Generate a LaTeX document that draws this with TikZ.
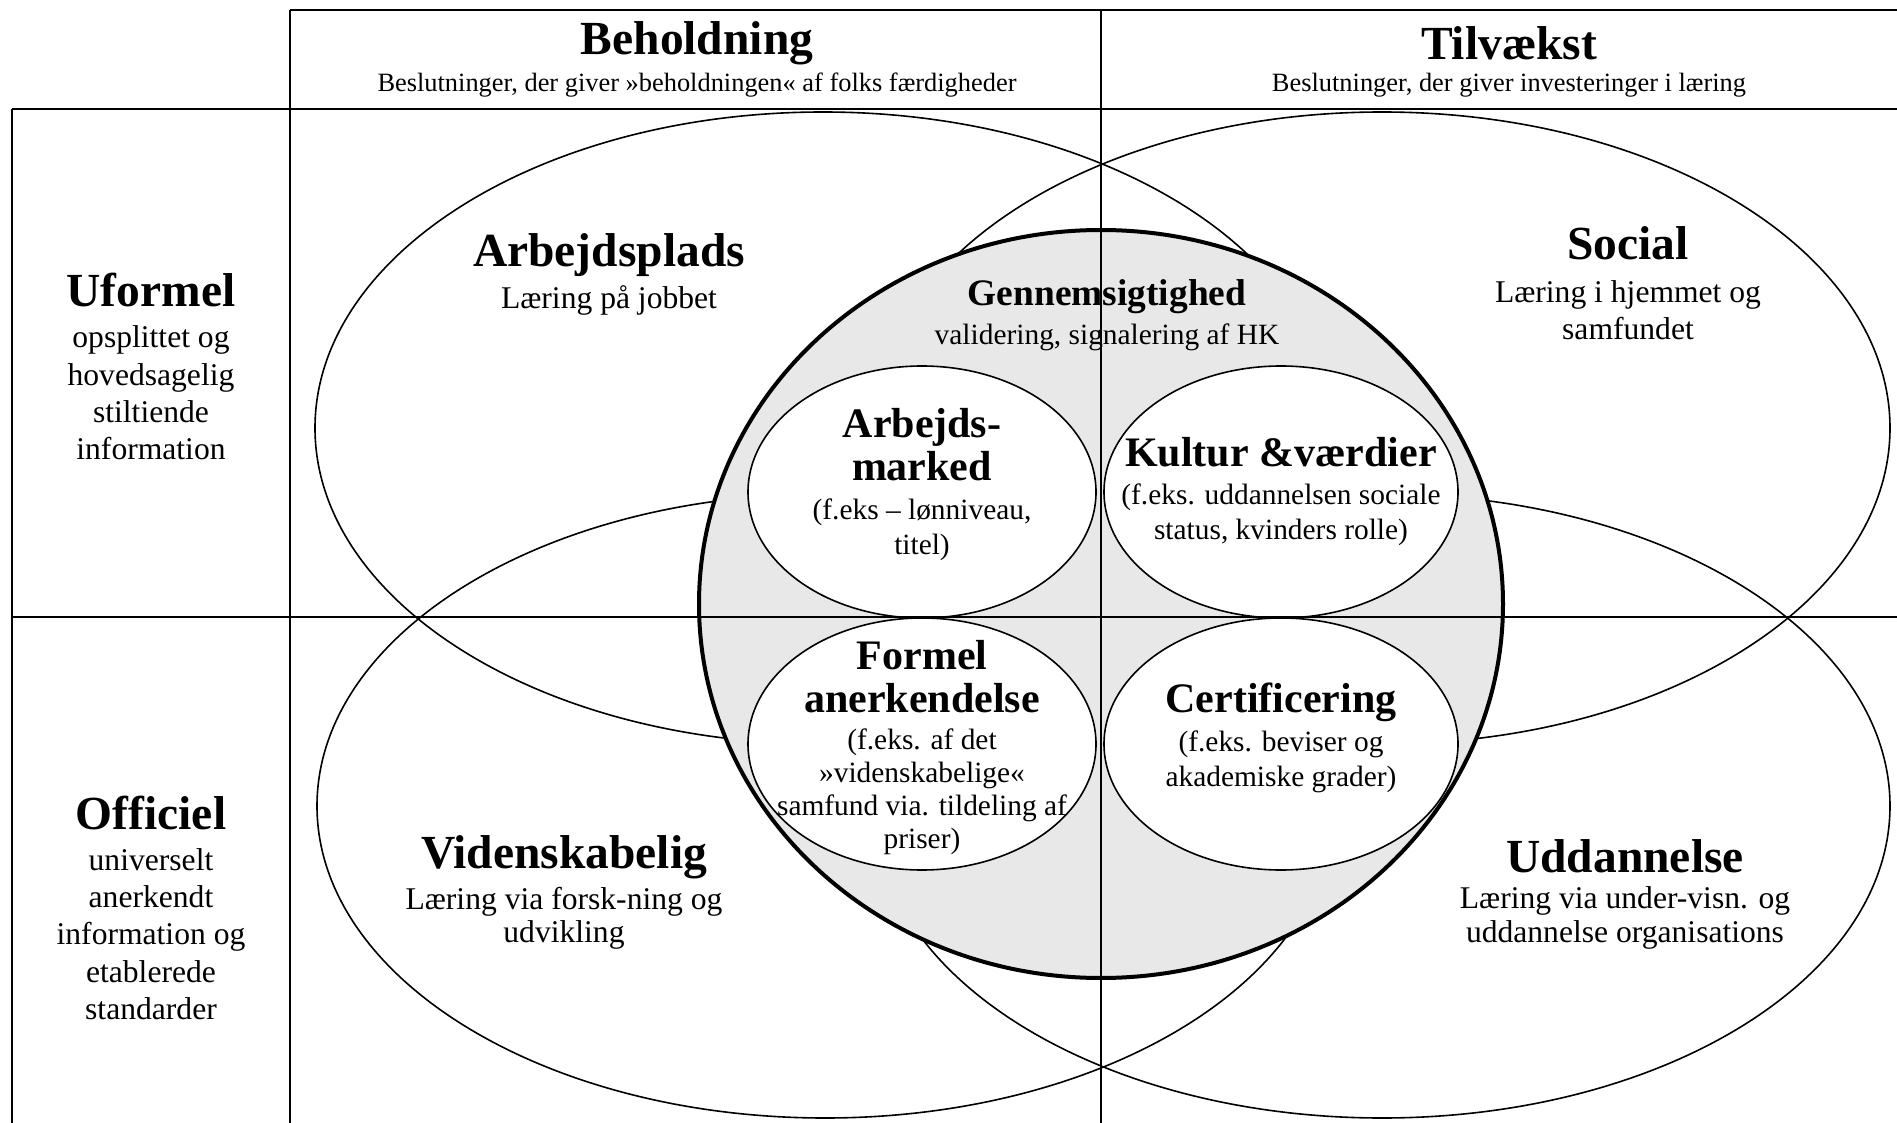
\documentclass[tikz,border=0pt]{standalone}
\usepackage{fontspec}
\setmainfont{Liberation Serif}
\definecolor{corefill}{RGB}{232,232,232}
\begin{document}
\begin{tikzpicture}[x=0.5pt,y=-0.5pt,
  gridline/.style={line width=1.1pt},
  outerell/.style={line width=0.8pt},
  innerell/.style={line width=0.8pt, fill=white},
  coreell/.style={line width=2pt, fill=corefill},
  txt/.style={inner sep=0pt, align=center},
  bigtitle/.style={txt, font=\fontsize{23.75}{28}\selectfont\bfseries},
  headsub/.style={txt, font=\fontsize{13.2}{16}\selectfont},
  sidesub/.style={txt, font=\fontsize{15.8}{18.7}\selectfont},
  ellsub/.style={txt, font=\fontsize{15.8}{16.6}\selectfont},
  midtitle/.style={txt, font=\fontsize{21}{21.5}\selectfont\bfseries},
  coretitle/.style={txt, font=\fontsize{18.7}{22}\selectfont\bfseries},
  midsub/.style={txt, font=\fontsize{14.7}{17.3}\selectfont},
  midsubtight/.style={txt, font=\fontsize{14.7}{16.5}\selectfont}]
\useasboundingbox (0,0) rectangle (1897,1123);

% four large learning domains
\draw[outerell] (823,428) ellipse [x radius=508, y radius=316];
\draw[outerell] (1382,428) ellipse [x radius=508, y radius=316];
\draw[outerell] (825,806) ellipse [x radius=508, y radius=312];
\draw[outerell] (1382,806) ellipse [x radius=508, y radius=312];

% central recognition area
\draw[coreell] (1101,604) ellipse [x radius=402, y radius=374];
\draw[innerell] (922,492) ellipse [x radius=174, y radius=126];
\draw[innerell] (1281,492) ellipse [x radius=177, y radius=126];
\draw[innerell] (922,744) ellipse [x radius=174, y radius=126];
\draw[innerell] (1281,744) ellipse [x radius=177, y radius=126];

% table frame
\draw[gridline] (290,10) -- (1897,10);
\draw[gridline] (12,109) -- (1897,109);
\draw[gridline] (12,617) -- (1897,617);
\draw[gridline] (12,109) -- (12,1123);
\draw[gridline] (290,10) -- (290,1123);
\draw[gridline] (1101,10) -- (1101,1123);

% column headings
\node[bigtitle] (hstock) at (697,43) {Beholdning};
\node[headsub] (hstocksub) at (697,85) {Beslutninger, der giver »beholdningen« af folks færdigheder};
\node[bigtitle] (hgrowth) at (1509,43) {Tilvækst};
\node[headsub] (hgrowthsub) at (1509,85) {Beslutninger, der giver investeringer i læring};

% row headings
\node[bigtitle] (rinf) at (151,290) {Uformel};
\node[sidesub] (rinfsub) at (151,393) {opsplittet og\\hovedsagelig\\stiltiende\\information};
\node[bigtitle] (roff) at (151,813) {Officiel};
\node[sidesub] (roffsub) at (151,934) {universelt\\anerkendt\\information og\\etablerede\\standarder};

% domain labels
\node[bigtitle] (work) at (609,255) {Arbejdsplads};
\node[ellsub] (worksub) at (609,300) {Læring på jobbet};
\node[bigtitle] (soc) at (1628,243) {Social};
\node[sidesub] (socsub) at (1628,310) {Læring i hjemmet og\\samfundet};
\node[bigtitle] (sci) at (564,857) {Videnskabelig};
\node[ellsub] (scisub) at (564,918) {Læring via forsk-ning og\\udvikling};
\node[bigtitle] (edu) at (1625,856) {Uddannelse};
\node[ellsub] (edusub) at (1625,918) {Læring via under-visn. og\\uddannelse organisations};

% central labels
\node[coretitle] (core) at (1107,297) {Gennemsigtighed};
\node[midsub] (coresub) at (1107,337) {validering, signalering af HK};

\node[midtitle] (lab) at (922,445) {Arbejds-\\marked};
\node[midsub] (labsub) at (922,530) {(f.eks – lønniveau,\\titel)};
\node[midtitle] (cul) at (1281,452) {Kultur \&værdier};
\node[midsub] (culsub) at (1281,515) {(f.eks. uddannelsen sociale\\status, kvinders rolle)};
\node[midtitle] (form) at (922,677) {Formel\\anerkendelse};
\node[midsubtight] (formsub) at (922,792) {(f.eks. af det\\»videnskabelige«\\samfund via. tildeling af\\priser)};
\node[midtitle] (cert) at (1281,702) {Certificering};
\node[midsub] (certsub) at (1281,762) {(f.eks. beviser og\\akademiske grader)};
\end{tikzpicture}
\end{document}
